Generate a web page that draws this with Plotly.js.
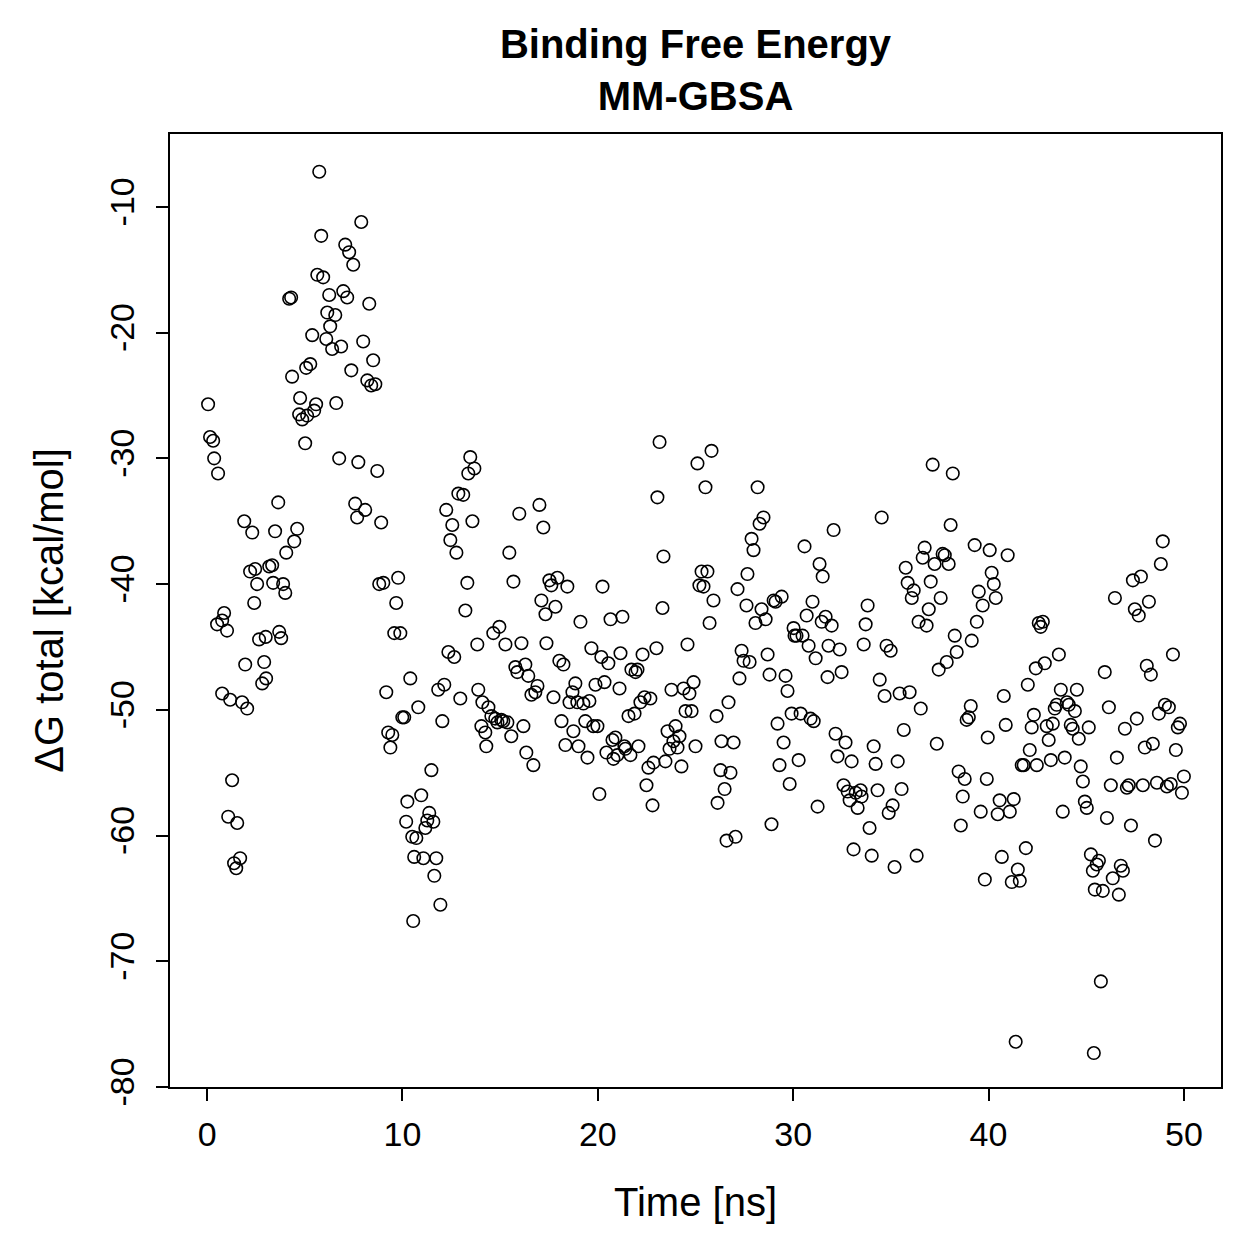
<!DOCTYPE html>
<html>
<head>
<meta charset="utf-8">
<script src="https://cdn.plot.ly/plotly-3.0.1.min.js"></script>
<style>
  html, body { margin: 0; padding: 0; background: #ffffff; }
  #chart { width: 1259px; height: 1259px; }
</style>
</head>
<body>
<div id="chart"></div>
<script>
// Simulation time of each MM-GBSA frame [ns]
const timeNs = [
  0.05, 0.15, 0.31, 0.36, 0.56, 0.51, 0.77, 0.87, 1.02, 0.77, 1.18, 1.08, 1.28, 1.54, 1.38, 1.49, 1.69, 1.79, 1.95, 2.05,
  1.90, 2.20, 2.31, 2.46, 2.41, 2.56, 2.66, 2.82, 2.92, 3.02, 3.00, 3.18, 3.33, 3.38, 3.48, 3.64, 3.69, 3.79, 3.89, 4.00,
  4.05, 4.20, 4.30, 4.35, 4.46, 4.61, 4.71, 4.76, 4.87, 5.02, 5.07, 5.12, 5.28, 5.38, 5.48, 5.58, 5.64, 5.74, 5.84, 5.94,
  6.10, 6.15, 6.25, 6.30, 6.40, 6.56, 6.61, 6.76, 6.86, 6.97, 7.07, 7.17, 7.27, 7.38, 7.48, 7.58, 7.68, 7.74, 7.89, 7.99,
  8.09, 8.20, 8.30, 8.40, 8.50, 8.61, 8.71, 8.81, 8.91, 9.02, 9.17, 9.27, 9.38, 9.48, 9.58, 9.68, 9.78, 9.89, 9.99, 10.09,
  10.19, 10.25, 10.40, 10.50, 10.60, 10.71, 10.55, 10.81, 10.96, 11.07, 11.17, 11.27, 11.37, 11.48, 11.58, 11.63, 11.73, 11.83, 11.94, 12.04,
  12.14, 12.24, 12.35, 12.45, 12.55, 12.65, 12.76, 12.86, 12.96, 13.11, 13.22, 13.32, 13.37, 13.47, 13.58, 13.68, 13.83, 13.88, 14.04, 14.09,
  14.24, 14.29, 14.40, 14.55, 14.65, 14.75, 14.86, 14.96, 15.06, 15.16, 15.27, 15.37, 15.47, 15.57, 15.68, 15.78, 15.88, 15.98, 16.09, 16.19,
  16.29, 16.34, 16.44, 16.60, 16.70, 16.80, 16.91, 17.01, 17.11, 17.21, 17.32, 17.37, 17.52, 17.62, 17.73, 17.83, 17.93, 18.03, 18.14, 18.24,
  18.34, 18.44, 18.55, 18.70, 18.75, 18.85, 18.95, 19.01, 19.11, 19.26, 19.36, 19.47, 19.57, 19.67, 19.77, 19.88, 19.98, 20.08, 20.18, 20.24,
  20.34, 20.44, 20.54, 20.65, 20.75, 20.80, 20.90, 21.00, 21.11, 21.16, 21.26, 21.36, 21.41, 21.57, 21.67, 21.72, 21.88, 21.93, 22.03, 22.08,
  22.18, 22.29, 22.39, 22.49, 22.59, 22.69, 22.80, 22.85, 23.00, 23.05, 23.16, 23.31, 23.36, 23.46, 23.57, 23.67, 23.77, 23.87, 23.98, 24.08,
  24.18, 24.28, 24.39, 24.49, 24.59, 24.69, 24.80, 24.90, 25.00, 25.10, 25.20, 25.31, 25.41, 25.51, 25.61, 25.72, 25.82, 25.92, 26.08, 26.13,
  26.28, 26.33, 26.49, 26.59, 26.69, 26.79, 26.95, 27.05, 27.15, 27.25, 27.36, 27.46, 27.61, 27.66, 27.77, 27.87, 27.97, 28.07, 28.18, 28.28,
  28.38, 28.48, 28.59, 28.69, 28.79, 28.89, 29.00, 29.10, 29.20, 29.30, 29.41, 29.51, 29.61, 29.71, 29.82, 29.92, 30.02, 30.07, 30.17, 30.28,
  30.38, 30.48, 30.58, 30.69, 30.79, 30.89, 30.99, 31.05, 31.15, 31.25, 31.35, 31.46, 31.51, 31.66, 31.76, 31.81, 31.97, 32.07, 32.17, 32.27,
  32.38, 32.48, 32.58, 32.68, 32.79, 32.89, 32.99, 33.09, 33.20, 33.30, 33.45, 33.50, 33.61, 33.71, 33.81, 33.91, 34.02, 34.12, 34.22, 34.32,
  34.43, 34.53, 34.68, 34.78, 34.89, 34.99, 35.09, 35.19, 35.35, 35.45, 35.55, 35.66, 35.76, 35.86, 35.96, 36.07, 36.17, 36.32, 36.42, 36.53,
  36.63, 36.73, 36.83, 36.94, 37.04, 37.14, 37.24, 37.35, 37.45, 37.55, 37.65, 37.76, 37.86, 37.96, 38.06, 38.17, 38.27, 38.37, 38.47, 38.58,
  38.68, 38.78, 38.88, 38.99, 39.09, 39.14, 39.29, 39.40, 39.50, 39.60, 39.70, 39.81, 39.91, 39.96, 40.06, 40.16, 40.27, 40.37, 40.47, 40.57,
  40.68, 40.78, 40.88, 40.98, 41.09, 41.19, 41.29, 41.39, 41.50, 41.60, 41.70, 41.80, 41.91, 42.01, 42.11, 42.21, 42.32, 42.42, 42.47, 42.57,
  42.67, 42.78, 42.88, 42.98, 43.08, 43.19, 43.29, 43.39, 43.49, 43.60, 43.70, 43.80, 43.90, 44.01, 44.11, 44.21, 44.31, 44.42, 44.52, 44.62,
  44.72, 44.83, 44.93, 45.03, 45.13, 45.24, 45.34, 45.39, 45.44, 45.54, 45.65, 45.75, 45.85, 45.95, 46.06, 46.16, 46.26, 46.36, 46.47, 46.57,
  46.67, 46.77, 46.88, 46.98, 47.08, 47.18, 47.29, 47.39, 47.49, 47.59, 47.69, 47.80, 47.90, 48.00, 48.10, 48.21, 48.31, 48.41, 48.52, 48.62,
  48.72, 48.82, 48.92, 49.03, 49.13, 49.23, 49.33, 49.44, 49.59, 49.69, 49.80, 49.90, 50.00
];

// Total binding free energy of each frame [kcal/mol]
const deltaGTotal = [
  -25.7, -28.3, -28.6, -30.0, -31.2, -43.2, -42.9, -42.3, -43.7, -48.7, -49.2, -58.5, -55.6, -59.0, -62.2, -62.6, -61.8, -49.4, -46.4, -49.9,
  -35.0, -39.0, -35.9, -38.8, -41.5, -40.0, -44.4, -47.9, -46.2, -47.5, -44.2, -38.6, -38.5, -39.9, -35.8, -33.5, -43.8, -44.3, -40.0, -40.7,
  -37.5, -17.3, -17.2, -23.5, -36.6, -35.6, -26.5, -25.2, -26.9, -28.8, -22.8, -26.6, -22.5, -20.2, -26.2, -25.7, -15.4, -7.2, -12.3, -15.6,
  -20.5, -18.4, -17.0, -19.5, -21.3, -18.6, -25.6, -30.0, -21.1, -16.7, -13.0, -17.2, -13.6, -23.0, -14.6, -33.6, -34.7, -30.3, -11.2, -20.7,
  -34.1, -23.8, -17.7, -24.2, -22.2, -24.1, -31.0, -40.0, -35.1, -39.9, -48.6, -51.8, -53.0, -52.0, -43.9, -41.5, -39.5, -43.9, -50.6, -50.6,
  -58.9, -57.3, -47.5, -60.1, -61.7, -60.2, -66.8, -49.8, -56.8, -61.8, -59.4, -58.8, -58.2, -54.8, -58.9, -63.2, -61.8, -48.4, -65.5, -50.9,
  -48.0, -34.1, -45.4, -36.5, -35.3, -45.8, -37.5, -32.8, -49.1, -32.9, -42.1, -39.9, -31.2, -29.9, -35.0, -30.8, -44.8, -48.4, -51.3, -49.4,
  -51.8, -52.9, -49.8, -50.5, -43.9, -50.7, -51.0, -43.4, -50.8, -50.9, -44.8, -51.0, -37.5, -52.1, -39.8, -46.6, -47.0, -34.4, -44.7, -51.3,
  -46.4, -53.4, -47.3, -48.8, -54.4, -48.6, -48.1, -33.7, -41.3, -35.5, -42.4, -44.7, -39.7, -40.1, -49.0, -41.8, -39.5, -46.1, -50.9, -46.4,
  -52.8, -40.2, -49.4, -48.6, -51.7, -47.9, -49.4, -52.9, -43.0, -49.5, -50.9, -53.8, -49.3, -45.1, -51.3, -48.0, -51.3, -56.7, -45.8, -40.2,
  -47.8, -53.4, -46.3, -42.8, -52.4, -53.9, -52.2, -53.6, -48.3, -45.5, -42.6, -52.9, -53.1, -50.5, -53.6, -46.8, -50.3, -47.0, -46.8, -52.9,
  -49.4, -45.6, -49.0, -56.0, -54.6, -49.1, -57.6, -54.2, -45.1, -33.1, -28.7, -41.9, -37.8, -54.1, -51.7, -53.1, -48.4, -52.5, -51.3, -53.0,
  -52.1, -54.5, -48.3, -50.1, -44.8, -48.7, -50.1, -47.8, -52.9, -30.4, -40.1, -39.0, -40.2, -32.3, -39.0, -43.1, -29.4, -41.3, -50.5, -57.4,
  -54.8, -52.5, -56.3, -60.4, -49.4, -55.0, -52.6, -60.1, -40.4, -47.5, -45.3, -46.1, -41.7, -39.2, -46.2, -36.4, -37.3, -43.1, -32.3, -35.2,
  -42.0, -34.7, -42.8, -45.6, -47.2, -59.1, -41.3, -41.4, -51.1, -54.4, -41.0, -52.6, -47.3, -48.5, -55.9, -50.3, -43.5, -44.1, -44.1, -54.0,
  -50.3, -44.1, -37.0, -42.5, -44.9, -50.7, -41.4, -50.9, -45.9, -57.7, -38.4, -43.0, -39.4, -42.6, -47.4, -44.9, -43.3, -35.7, -51.9, -53.7,
  -45.2, -47.0, -56.0, -52.6, -56.5, -57.2, -54.1, -61.1, -56.6, -57.8, -56.4, -56.9, -44.8, -43.2, -41.7, -59.4, -61.6, -52.9, -54.3, -56.4,
  -47.6, -34.7, -48.9, -44.9, -58.2, -45.3, -57.6, -62.5, -54.1, -48.7, -56.3, -51.6, -38.7, -39.9, -48.6, -41.1, -40.5, -61.6, -43.0, -49.9,
  -37.9, -37.1, -43.3, -42.0, -39.8, -30.5, -38.4, -52.7, -46.8, -41.1, -37.6, -37.7, -46.2, -38.4, -35.3, -31.2, -44.1, -45.4, -54.9, -59.2,
  -56.9, -55.5, -50.8, -50.6, -49.7, -44.5, -36.9, -43.0, -40.6, -58.1, -41.7, -63.5, -55.5, -52.2, -37.3, -39.1, -40.0, -41.1, -58.3, -57.2,
  -61.7, -48.9, -51.2, -37.7, -58.1, -63.7, -57.1, -76.4, -62.7, -63.6, -54.4, -54.4, -61.0, -48.0, -53.2, -51.4, -50.4, -46.7, -54.4, -43.1,
  -43.4, -43.0, -46.3, -51.3, -52.4, -54.0, -51.1, -49.9, -49.6, -45.6, -48.4, -58.1, -53.8, -49.4, -49.6, -51.2, -51.5, -50.1, -48.4, -52.3,
  -54.5, -55.7, -57.3, -57.8, -51.4, -61.5, -62.8, -77.3, -64.3, -62.3, -62.0, -71.6, -64.4, -47.0, -58.6, -49.8, -56.0, -63.4, -41.1, -53.8,
  -64.7, -62.4, -62.8, -51.5, -56.2, -56.0, -59.2, -39.7, -42.0, -50.7, -42.5, -39.4, -56.0, -53.0, -46.5, -41.4, -47.2, -52.7, -60.4, -55.8,
  -50.3, -38.4, -36.6, -49.6, -56.1, -49.8, -55.9, -45.6, -53.2, -51.4, -51.1, -56.6, -55.3
];

// Axis ticks, written with a plain hyphen as the minus sign
const xTickValues = [0, 10, 20, 30, 40, 50];
const xTickLabels = ["0", "10", "20", "30", "40", "50"];
const yTickValues = [-80, -70, -60, -50, -40, -30, -20, -10];
const yTickLabels = ["-80", "-70", "-60", "-50", "-40", "-30", "-20", "-10"];

const FONT = "Liberation Sans, Arial, Helvetica, sans-serif";

const trace = {
  x: timeNs,
  y: deltaGTotal,
  type: "scatter",
  mode: "markers",
  marker: {
    symbol: "circle-open",
    size: 12.5,
    color: "#000000",
    line: { width: 1.6, color: "#000000" }
  },
  hoverinfo: "x+y"
};

const axisCommon = {
  showgrid: false,
  zeroline: false,
  showline: true,
  mirror: true,
  linecolor: "#000000",
  linewidth: 2,
  ticks: "outside",
  ticklen: 12,
  tickwidth: 2,
  tickcolor: "#000000",
  tickmode: "array",
  tickfont: { family: FONT, size: 34, color: "#000000" }
};

const layout = {
  width: 1259,
  height: 1259,
  paper_bgcolor: "#ffffff",
  plot_bgcolor: "#ffffff",
  showlegend: false,
  margin: { l: 170, r: 38, t: 134, b: 172 },
  title: {
    text: "<b>Binding Free Energy</b><br><b>MM-GBSA</b>",
    font: { family: FONT, size: 40, color: "#000000" },
    x: 0.5,
    xref: "paper",
    xanchor: "center",
    y: 0.954,
    yref: "container",
    yanchor: "middle"
  },
  xaxis: Object.assign({}, axisCommon, {
    range: [-1.9, 51.9],
    tickvals: xTickValues,
    ticktext: xTickLabels,
    ticklabelstandoff: 4,
    title: {
      text: "Time [ns]",
      font: { family: FONT, size: 40, color: "#000000" },
      standoff: 36
    }
  }),
  yaxis: Object.assign({}, axisCommon, {
    range: [-80.0, -4.2],
    tickvals: yTickValues,
    ticktext: yTickLabels,
    tickangle: -90,
    ticklabelstandoff: 8,
    title: {
      text: "ΔG total [kcal/mol]",
      font: { family: FONT, size: 40, color: "#000000" },
      standoff: 27
    }
  })
};

Plotly.newPlot("chart", [trace], layout, { staticPlot: true, displayModeBar: false });
</script>
</body>
</html>
